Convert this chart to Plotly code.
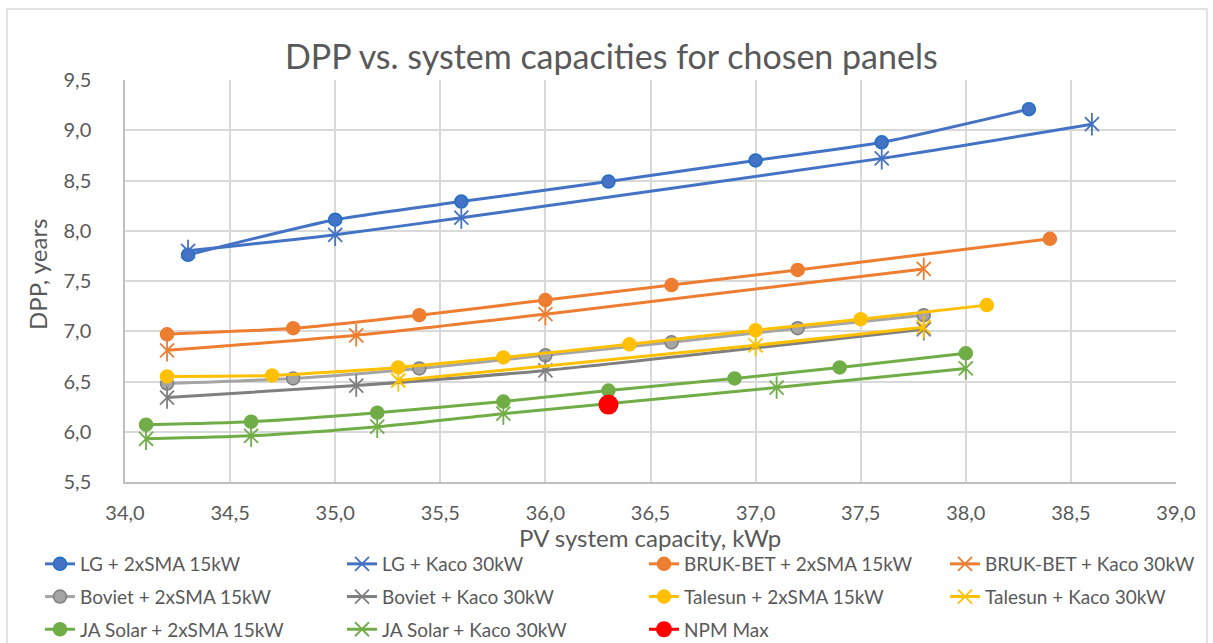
import plotly.graph_objects as go

# ---- data: PV system capacity (kWp) vs discounted payback period (years) ----
x_lg_sma = [34.3, 35.0, 35.6, 36.3, 37.0, 37.6, 38.3]
y_lg_sma = [7.76, 8.11, 8.29, 8.49, 8.70, 8.88, 9.21]

x_lg_kaco = [34.3, 35.0, 35.6, 37.6, 38.6]
y_lg_kaco = [7.80, 7.96, 8.13, 8.72, 9.06]

x_bb_sma = [34.2, 34.8, 35.4, 36.0, 36.6, 37.2, 38.4]
y_bb_sma = [6.97, 7.03, 7.16, 7.31, 7.46, 7.61, 7.92]

x_bb_kaco = [34.2, 35.1, 36.0, 37.8]
y_bb_kaco = [6.81, 6.96, 7.17, 7.62]

x_bv_sma = [34.2, 34.8, 35.4, 36.0, 36.6, 37.2, 37.8]
y_bv_sma = [6.48, 6.53, 6.63, 6.76, 6.89, 7.03, 7.16]

x_bv_kaco = [34.2, 35.1, 36.0, 37.8]
y_bv_kaco = [6.34, 6.46, 6.61, 7.02]

x_ts_sma = [34.2, 34.7, 35.3, 35.8, 36.4, 37.0, 37.5, 38.1]
y_ts_sma = [6.55, 6.56, 6.64, 6.74, 6.87, 7.01, 7.12, 7.26]

x_ts_kaco = [35.3, 37.0, 37.8]
y_ts_kaco = [6.51, 6.86, 7.04]

x_ja_sma = [34.1, 34.6, 35.2, 35.8, 36.3, 36.9, 37.4, 38.0]
y_ja_sma = [6.07, 6.10, 6.19, 6.30, 6.41, 6.53, 6.64, 6.78]

x_ja_kaco = [34.1, 34.6, 35.2, 35.8, 37.1, 38.0]
y_ja_kaco = [5.93, 5.96, 6.05, 6.18, 6.44, 6.63]

x_npm = [36.3]
y_npm = [6.27]

TEXT = "#595959"
FONT = "Lato"

# (name, x, y, colour, marker kind, marker outline, legend column)
series = [
    ("LG + 2xSMA 15kW", x_lg_sma, y_lg_sma, "#4472C4", "circle", "#1F6FC5", "legend"),
    ("LG + Kaco 30kW", x_lg_kaco, y_lg_kaco, "#4472C4", "star", None, "legend2"),
    ("BRUK-BET + 2xSMA 15kW", x_bb_sma, y_bb_sma, "#ED7D31", "circle", "#ED7D31", "legend3"),
    ("BRUK-BET + Kaco 30kW", x_bb_kaco, y_bb_kaco, "#ED7D31", "star", None, "legend4"),
    ("Boviet + 2xSMA 15kW", x_bv_sma, y_bv_sma, "#A5A5A5", "circle", "#7F7F7F", "legend"),
    ("Boviet + Kaco 30kW", x_bv_kaco, y_bv_kaco, "#7F7F7F", "star", None, "legend2"),
    ("Talesun + 2xSMA 15kW", x_ts_sma, y_ts_sma, "#FFC000", "circle", "#FFC000", "legend3"),
    ("Talesun + Kaco 30kW", x_ts_kaco, y_ts_kaco, "#FFC000", "star", None, "legend4"),
    ("JA Solar + 2xSMA 15kW", x_ja_sma, y_ja_sma, "#70AD47", "circle", "#70AD47", "legend"),
    ("JA Solar + Kaco 30kW", x_ja_kaco, y_ja_kaco, "#70AD47", "star", None, "legend2"),
]

fig = go.Figure()

for name, xs, ys, col, kind, outline, leg in series:
    if kind == "circle":
        marker = dict(symbol="circle", size=13, color=col,
                      line=dict(color=outline, width=1.5))
    else:
        marker = dict(symbol="x-thin-open", size=14, color=col,
                      line=dict(color=col, width=1.8))
    fig.add_trace(go.Scatter(
        x=xs, y=ys, name=name, mode="lines+markers", legendgroup=name,
        line=dict(color=col, width=3, shape="spline", smoothing=0.6),
        marker=marker, legend=leg,
    ))
    if kind == "star":
        # vertical stroke that turns the x into a six-armed star
        fig.add_trace(go.Scatter(
            x=xs, y=ys, mode="markers", showlegend=False, hoverinfo="skip",
            legendgroup=name,
            marker=dict(symbol="line-ns-open", size=16, color=col,
                        line=dict(color=col, width=1.8)),
            legend=leg,
        ))

fig.add_trace(go.Scatter(
    x=x_npm, y=y_npm, name="NPM Max", mode="lines+markers", legendgroup="NPM Max",
    line=dict(color="#FF0000", width=3),
    marker=dict(symbol="circle", size=20, color="#FF0000"),
    legend="legend3",
))

PLOT_L, PLOT_R, PLOT_T, PLOT_B = 125, 1176, 80, 482
W, H = 1213, 643
pw = PLOT_R - PLOT_L
ph = PLOT_B - PLOT_T


def px_x(px):
    return (px - PLOT_L) / pw


def px_y(py):
    return (PLOT_B - py) / ph


legend_common = dict(
    orientation="v", xanchor="left", yanchor="top",
    font=dict(family=FONT, size=19, color=TEXT),
    tracegroupgap=5, y=px_y(545),
    bgcolor="rgba(0,0,0,0)", itemsizing="trace",
)

fig.update_layout(
    width=W, height=H,
    margin=dict(l=PLOT_L, r=W - PLOT_R, t=PLOT_T, b=H - PLOT_B, pad=0,
                autoexpand=False),
    paper_bgcolor="white", plot_bgcolor="white",
    separators=", ",
    font=dict(family=FONT, color=TEXT),
    showlegend=True,
    legend=dict(legend_common, x=px_x(40)),
    legend2=dict(legend_common, x=px_x(342)),
    legend3=dict(legend_common, x=px_x(644)),
    legend4=dict(legend_common, x=px_x(945)),
    xaxis=dict(
        range=[34, 39], dtick=0.5, tick0=34, tickformat=".1f",
        showgrid=True, gridcolor="#D9D9D9", gridwidth=1.5,
        showline=True, linecolor="#BFBFBF", linewidth=1.5,
        zeroline=False, ticks="", ticklabelstandoff=12,
        tickfont=dict(family=FONT, size=20, color=TEXT),
    ),
    yaxis=dict(
        range=[5.5, 9.5], dtick=0.5, tick0=5.5, tickformat=".1f",
        showgrid=True, gridcolor="#D9D9D9", gridwidth=1.5,
        showline=True, linecolor="#BFBFBF", linewidth=1.5,
        zeroline=False, ticks="", ticklabelstandoff=28,
        tickfont=dict(family=FONT, size=20, color=TEXT),
    ),
    annotations=[
        dict(text="DPP vs. system capacities for chosen panels",
             xref="paper", yref="paper", x=px_x(611), y=px_y(55),
             xanchor="center", yanchor="middle", showarrow=False,
             font=dict(family=FONT, size=34, color=TEXT)),
        dict(text="PV system capacity, kWp",
             xref="paper", yref="paper", x=px_x(650), y=px_y(537),
             xanchor="center", yanchor="middle", showarrow=False,
             font=dict(family=FONT, size=24, color=TEXT)),
        dict(text="DPP, years", textangle=-90,
             xref="paper", yref="paper", x=px_x(37), y=px_y(275),
             xanchor="center", yanchor="middle", showarrow=False,
             font=dict(family=FONT, size=24, color=TEXT)),
    ],
    shapes=[
        dict(type="rect", xref="paper", yref="paper",
             x0=px_x(7), x1=px_x(1207), y0=px_y(700), y1=px_y(9),
             line=dict(color="#D9D9D9", width=1.5), fillcolor="rgba(0,0,0,0)",
             layer="below"),
    ],
)

fig.write_html("out.html")
